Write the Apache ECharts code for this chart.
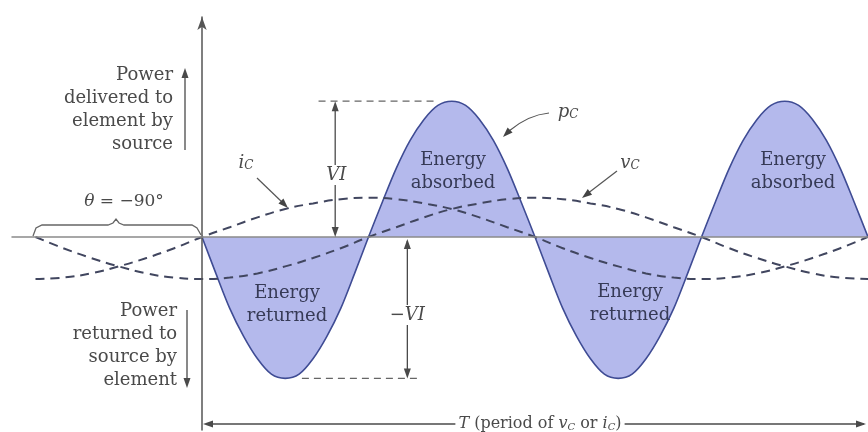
<!DOCTYPE html>
<html>
<head>
<meta charset="utf-8">
<script src="https://cdn.jsdelivr.net/npm/echarts@6/dist/echarts.min.js"></script>
<style>
  html, body { margin: 0; padding: 0; background: #fff; }
  #chart { width: 868px; height: 432px; }
</style>
</head>
<body>
<div id="chart"></div>
<script>
// angle of the source (deg), p_C in units of VI
const thetaP = [0, 7.5, 15, 22.5, 30, 37.5, 45, 52.5, 60, 67.5, 75, 82.5, 90,
                97.5, 105, 112.5, 120, 127.5, 135, 142.5, 150, 157.5, 165, 172.5, 180,
                187.5, 195, 202.5, 210, 217.5, 225, 232.5, 240, 247.5, 255, 262.5, 270,
                277.5, 285, 292.5, 300, 307.5, 315, 322.5, 330, 337.5, 345, 352.5, 360];
const pC = [0, -0.26, -0.51, -0.71, -0.87, -0.98, -1.01, -0.98, -0.87, -0.71, -0.51, -0.26, 0,
            0.25, 0.49, 0.69, 0.84, 0.94, 0.97, 0.94, 0.84, 0.69, 0.49, 0.25, 0,
            -0.26, -0.51, -0.71, -0.87, -0.98, -1.01, -0.98, -0.87, -0.71, -0.51, -0.26, 0,
            0.25, 0.49, 0.69, 0.84, 0.94, 0.97, 0.94, 0.84, 0.69, 0.49, 0.25, 0];

// i_C and v_C (dashed), same vertical units
const thetaIV = [-90, -75, -60, -45, -30, -15, 0, 15, 30, 45, 60, 75, 90, 105, 120, 135,
                 150, 165, 180, 195, 210, 225, 240, 255, 270, 285, 300, 315, 330, 345, 360];
const iC = [-0.30, -0.29, -0.26, -0.21, -0.15, -0.08, 0, 0.07, 0.14, 0.20, 0.24, 0.27, 0.28,
            0.27, 0.24, 0.20, 0.14, 0.07, 0, -0.08, -0.15, -0.21, -0.26, -0.29, -0.30,
            -0.29, -0.26, -0.21, -0.15, -0.08, 0];
const vC = [0, -0.08, -0.15, -0.21, -0.26, -0.29, -0.30, -0.29, -0.26, -0.21, -0.15, -0.08, 0,
            0.07, 0.14, 0.20, 0.24, 0.27, 0.28, 0.27, 0.24, 0.20, 0.14, 0.07, 0,
            -0.08, -0.15, -0.21, -0.26, -0.29, -0.30];

const SERIF = "DejaVu Serif";
const GREY = "#4a4a4a";
const NAVY = "#363a56";
const DASH = "#41465f";

const chart = echarts.init(document.getElementById("chart"));

chart.setOption({
    animation: false,
    grid: { left: 12, right: 0, top: 17, bottom: 2 },
    xAxis: {
        type: "value", min: -102.7, max: 360, z: 5,
        axisLine: { show: true, onZero: true, lineStyle: { color: "#8a8a8a", width: 1.5 } },
        axisTick: { show: false }, axisLabel: { show: false }, splitLine: { show: false },
    },
    yAxis: {
        type: "value", min: -1.3786, max: 1.5714, z: 5,
        axisLine: {
            show: true, onZero: true,
            symbol: ["none", "arrow"], symbolSize: [7, 13],
            lineStyle: { color: "#555", width: 1.5 },
        },
        axisTick: { show: false }, axisLabel: { show: false }, splitLine: { show: false },
    },
    series: [
        {
            name: "pC", type: "line", data: thetaP.map((t, k) => [t, pC[k]]),
            smooth: 0.3, symbol: "none", z: 2,
            lineStyle: { color: "#3f4c94", width: 1.6 },
            areaStyle: { color: "#b4b9ec", opacity: 1 },
        },
        {
            name: "iC", type: "line", data: thetaIV.map((t, k) => [t, iC[k]]),
            smooth: 0.45, symbol: "none", z: 3,
            lineStyle: { color: DASH, width: 2, type: [9, 6] },
        },
        {
            name: "vC", type: "line", data: thetaIV.map((t, k) => [t, vC[k]]),
            smooth: 0.45, symbol: "none", z: 3,
            lineStyle: { color: DASH, width: 2, type: [9, 6] },
        },
    ],
});

const P = (x, y) => chart.convertToPixel({ gridIndex: 0 }, [x, y]);

function line(x1, y1, x2, y2, color, width, dash) {
    return {
        type: "line", z: 20,
        shape: { x1, y1, x2, y2 },
        style: { stroke: color || GREY, lineWidth: width || 1.3, lineDash: dash || null },
    };
}
function head(x, y, ang, color) {
    const l = 10, s = 3.5;
    const bx = x - l * Math.cos(ang), by = y - l * Math.sin(ang);
    const nx = -Math.sin(ang), ny = Math.cos(ang);
    return {
        type: "polygon", z: 21,
        shape: { points: [[x, y], [bx + s * nx, by + s * ny], [bx - s * nx, by - s * ny]] },
        style: { fill: color || GREY },
    };
}
const UP = -Math.PI / 2, DOWN = Math.PI / 2;

function txt(x, y, text, opts) {
    opts = opts || {};
    const size = opts.size || 18;
    const color = opts.color || GREY;
    const base = { fontFamily: SERIF, fontSize: size, fill: color };
    return {
        type: "text", x, y, z: 25,
        style: Object.assign({
            text,
            fontFamily: SERIF, fontSize: size, fill: color,
            align: opts.align || "center", verticalAlign: "middle",
            backgroundColor: opts.bg || null,
            padding: opts.bg ? [1, 3] : 0,
            rich: {
                it: Object.assign({}, base, { fontStyle: "italic" }),
                sub: Object.assign({}, base, { fontStyle: "italic", fontSize: Math.round(size * 0.65), verticalAlign: "bottom", lineHeight: 10 }),
                n: base,
            },
        }),
    };
}

const O = P(0, 0);
const peak = Math.max(...pC), trough = Math.min(...pC);
const yPeak = P(0, peak)[1], yTrough = P(0, trough)[1];
const xVI = P(72, 0)[0], xNVI = P(111, 0)[0];
const xEnd = P(360, 0)[0];
const yT = 424;

const g = [];
// VI dimension
g.push(line(P(63, 0)[0], yPeak, P(127, 0)[0], yPeak, "#666", 1.3, [7, 5]));
g.push(line(xVI, yPeak + 4, xVI, O[1] - 4));
g.push(head(xVI, yPeak, UP), head(xVI, O[1], DOWN));
g.push(txt(xVI + 1, 175, "{it|VI}", { bg: "#fff" }));
// -VI dimension
g.push(line(P(54, 0)[0], yTrough, P(117, 0)[0], yTrough, "#666", 1.3, [7, 5]));
g.push(line(xNVI, O[1] + 4, xNVI, yTrough - 4));
g.push(head(xNVI, O[1] + 2, UP), head(xNVI, yTrough, DOWN));
g.push(txt(xNVI, 315, "{it|\u2212VI}", { bg: "#fff" }));
// period arrow
g.push(line(O[0] + 4, yT, xEnd - 4, yT));
g.push(head(O[0] + 1, yT, Math.PI), head(xEnd - 2, yT, 0));
g.push(txt(540, yT, "{it|T} (period of {it|v}{sub|C} or {it|i}{sub|C})", { bg: "#fff", size: 16 }));

// side labels
["Power", "delivered to", "element by", "source"].forEach((s, k) =>
    g.push(txt(173, 75 + k * 23, s, { align: "right" })));
g.push(line(185, 150, 185, 76), head(185, 68, UP));
["Power", "returned to", "source by", "element"].forEach((s, k) =>
    g.push(txt(177, 311 + k * 23, s, { align: "right" })));
g.push(line(187, 310, 187, 380), head(187, 388, DOWN));

// theta brace
g.push({
    type: "polyline", z: 20,
    shape: { points: [[33, 236], [36, 228], [42, 225], [108, 225], [113, 223], [116, 219],
                      [119, 223], [124, 225], [192, 225], [197, 228], [201, 235]] },
    style: { stroke: "#666", lineWidth: 1.3, fill: null },
});
g.push(txt(124, 202, "{it|\u03b8} = \u221290\u00b0", { size: 17 }));

// curve labels with leaders
g.push(txt(246, 163, "{it|i}{sub|C}"));
g.push(line(257, 178, 283, 203, "#555", 1.2), head(288, 208, Math.PI / 4, "#444"));
g.push(txt(630, 163, "{it|v}{sub|C}"));
g.push(line(617, 171, 587, 194, "#555", 1.2), head(582, 198, Math.atan2(27, -35), "#444"));
g.push(txt(568, 112, "{it|p}{sub|C}"));
g.push({
    type: "bezierCurve", z: 20,
    shape: { x1: 549, y1: 113, x2: 509, y2: 131, cpx1: 528, cpy1: 115 },
    style: { stroke: "#555", lineWidth: 1.2, fill: null },
});
g.push(head(503, 137, Math.atan2(6, -6), "#444"));

// lobe labels
const lobe = [
    [453, 160, "Energy", "absorbed"], [793, 160, "Energy", "absorbed"],
    [287, 293, "Energy", "returned"], [630, 292, "Energy", "returned"],
];
lobe.forEach(([x, y, a, b]) => {
    g.push(txt(x, y, a, { color: NAVY }), txt(x, y + 23, b, { color: NAVY }));
});

chart.setOption({ graphic: g });
</script>
</body>
</html>
